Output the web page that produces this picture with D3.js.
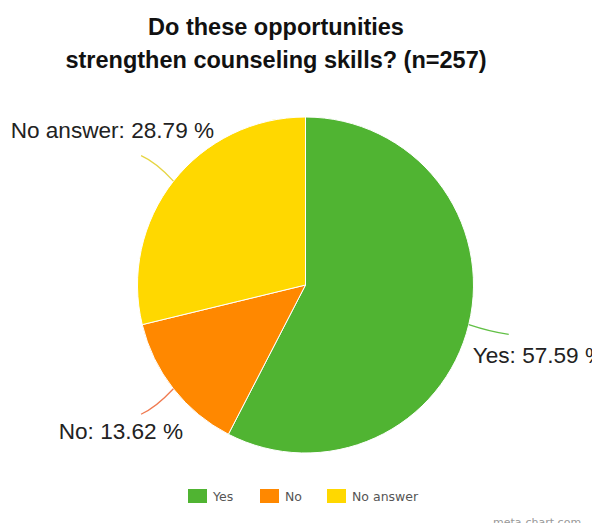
<!DOCTYPE html>
<html>
<head>
<meta charset="utf-8">
<script src="https://cdn.jsdelivr.net/npm/d3@7"></script>
<style>
  body { margin: 0; background: #fff; }
  svg { display: block; }
</style>
</head>
<body>
<svg id="chart" width="592" height="523"></svg>
<script>
// data
const categories = ["Yes", "No", "No answer"];
const percents = [57.59, 13.62, 28.79];
const colors = ["#50b432", "#ff8800", "#ffd800"];
const lineColors = ["#62c046", "#f07a50", "#e6d542"];
const titleLines = ["Do these opportunities", "strengthen counseling skills? (n=257)"];

// label placement relative to the end of each leader line
const labelOffsets = [
  { dx: -36, dy: 29, anchor: "start" },
  { dx: 42, dy: 25, anchor: "end" },
  { dx: 73, dy: -18, anchor: "end" },
];

const svg = d3.select("#chart");
const cx = 305.5, cy = 285, radius = 168;

// title
svg.append("g")
  .selectAll("text")
  .data(titleLines)
  .join("text")
  .attr("x", 276)
  .attr("y", (d, i) => 35 + i * 33)
  .attr("text-anchor", "middle")
  .attr("font-family", "Liberation Sans, Arial, sans-serif")
  .attr("font-weight", "bold")
  .attr("font-size", "23.5px")
  .attr("fill", "#111")
  .text((d) => d);

const items = categories.map((c, i) => ({ name: c, value: percents[i], i: i }));

const pie = d3.pie().sort(null).value((d) => d.value);
const arcs = pie(items);
const arc = d3.arc().innerRadius(0).outerRadius(radius);

const g = svg.append("g").attr("transform", `translate(${cx},${cy})`);

g.selectAll("path.slice")
  .data(arcs)
  .join("path")
  .attr("class", "slice")
  .attr("d", arc)
  .attr("fill", (d) => colors[d.data.i])
  .attr("stroke", "#fff")
  .attr("stroke-width", 1);

// leader lines: start radial at the rim, flatten out toward the label
function polar(r, a) {
  return [r * Math.sin(a), -r * Math.cos(a)];
}
function leaderEnd(d) {
  return polar(radius * 1.245, (d.startAngle + d.endAngle) / 2);
}

g.selectAll("path.leader")
  .data(arcs)
  .join("path")
  .attr("class", "leader")
  .attr("fill", "none")
  .attr("stroke", (d) => lineColors[d.data.i])
  .attr("stroke-width", 1.3)
  .attr("d", (d) => {
    const a = (d.startAngle + d.endAngle) / 2;
    const p0 = polar(radius, a);
    const p1 = leaderEnd(d);
    const path = d3.path();
    path.moveTo(p0[0], p0[1]);
    path.quadraticCurveTo(
      p0[0] * 0.45 + p1[0] * 0.55,
      p0[1] * 0.25 + p1[1] * 0.75,
      p1[0], p1[1]
    );
    return path.toString();
  });

g.selectAll("text.label")
  .data(arcs)
  .join("text")
  .attr("class", "label")
  .each(function (d) {
    const p = leaderEnd(d);
    const o = labelOffsets[d.data.i];
    d3.select(this)
      .attr("x", p[0] + o.dx)
      .attr("y", p[1] + o.dy)
      .attr("text-anchor", o.anchor);
  })
  .attr("font-family", "Liberation Sans, Arial, sans-serif")
  .attr("font-size", "22.6px")
  .attr("fill", "#222")
  .text((d) => `${d.data.name}: ${d3.format(".2f")(d.data.value)} %`);

// legend
const legendX = d3.scaleOrdinal().domain(categories).range([188, 260, 327]);
const legend = svg.append("g")
  .selectAll("g")
  .data(categories)
  .join("g")
  .attr("transform", (d) => `translate(${legendX(d)},489)`);

legend.append("rect")
  .attr("width", 19)
  .attr("height", 14)
  .attr("fill", (d, i) => colors[i]);

legend.append("text")
  .attr("x", 25)
  .attr("y", 12)
  .attr("font-family", "DejaVu Sans, sans-serif")
  .attr("font-size", "12.5px")
  .attr("fill", "#555")
  .text((d) => d);

svg.append("text")
  .attr("x", 493)
  .attr("y", 526)
  .attr("font-family", "DejaVu Sans, sans-serif")
  .attr("font-size", "11px")
  .attr("fill", "#999")
  .text("meta-chart.com");
</script>
</body>
</html>
